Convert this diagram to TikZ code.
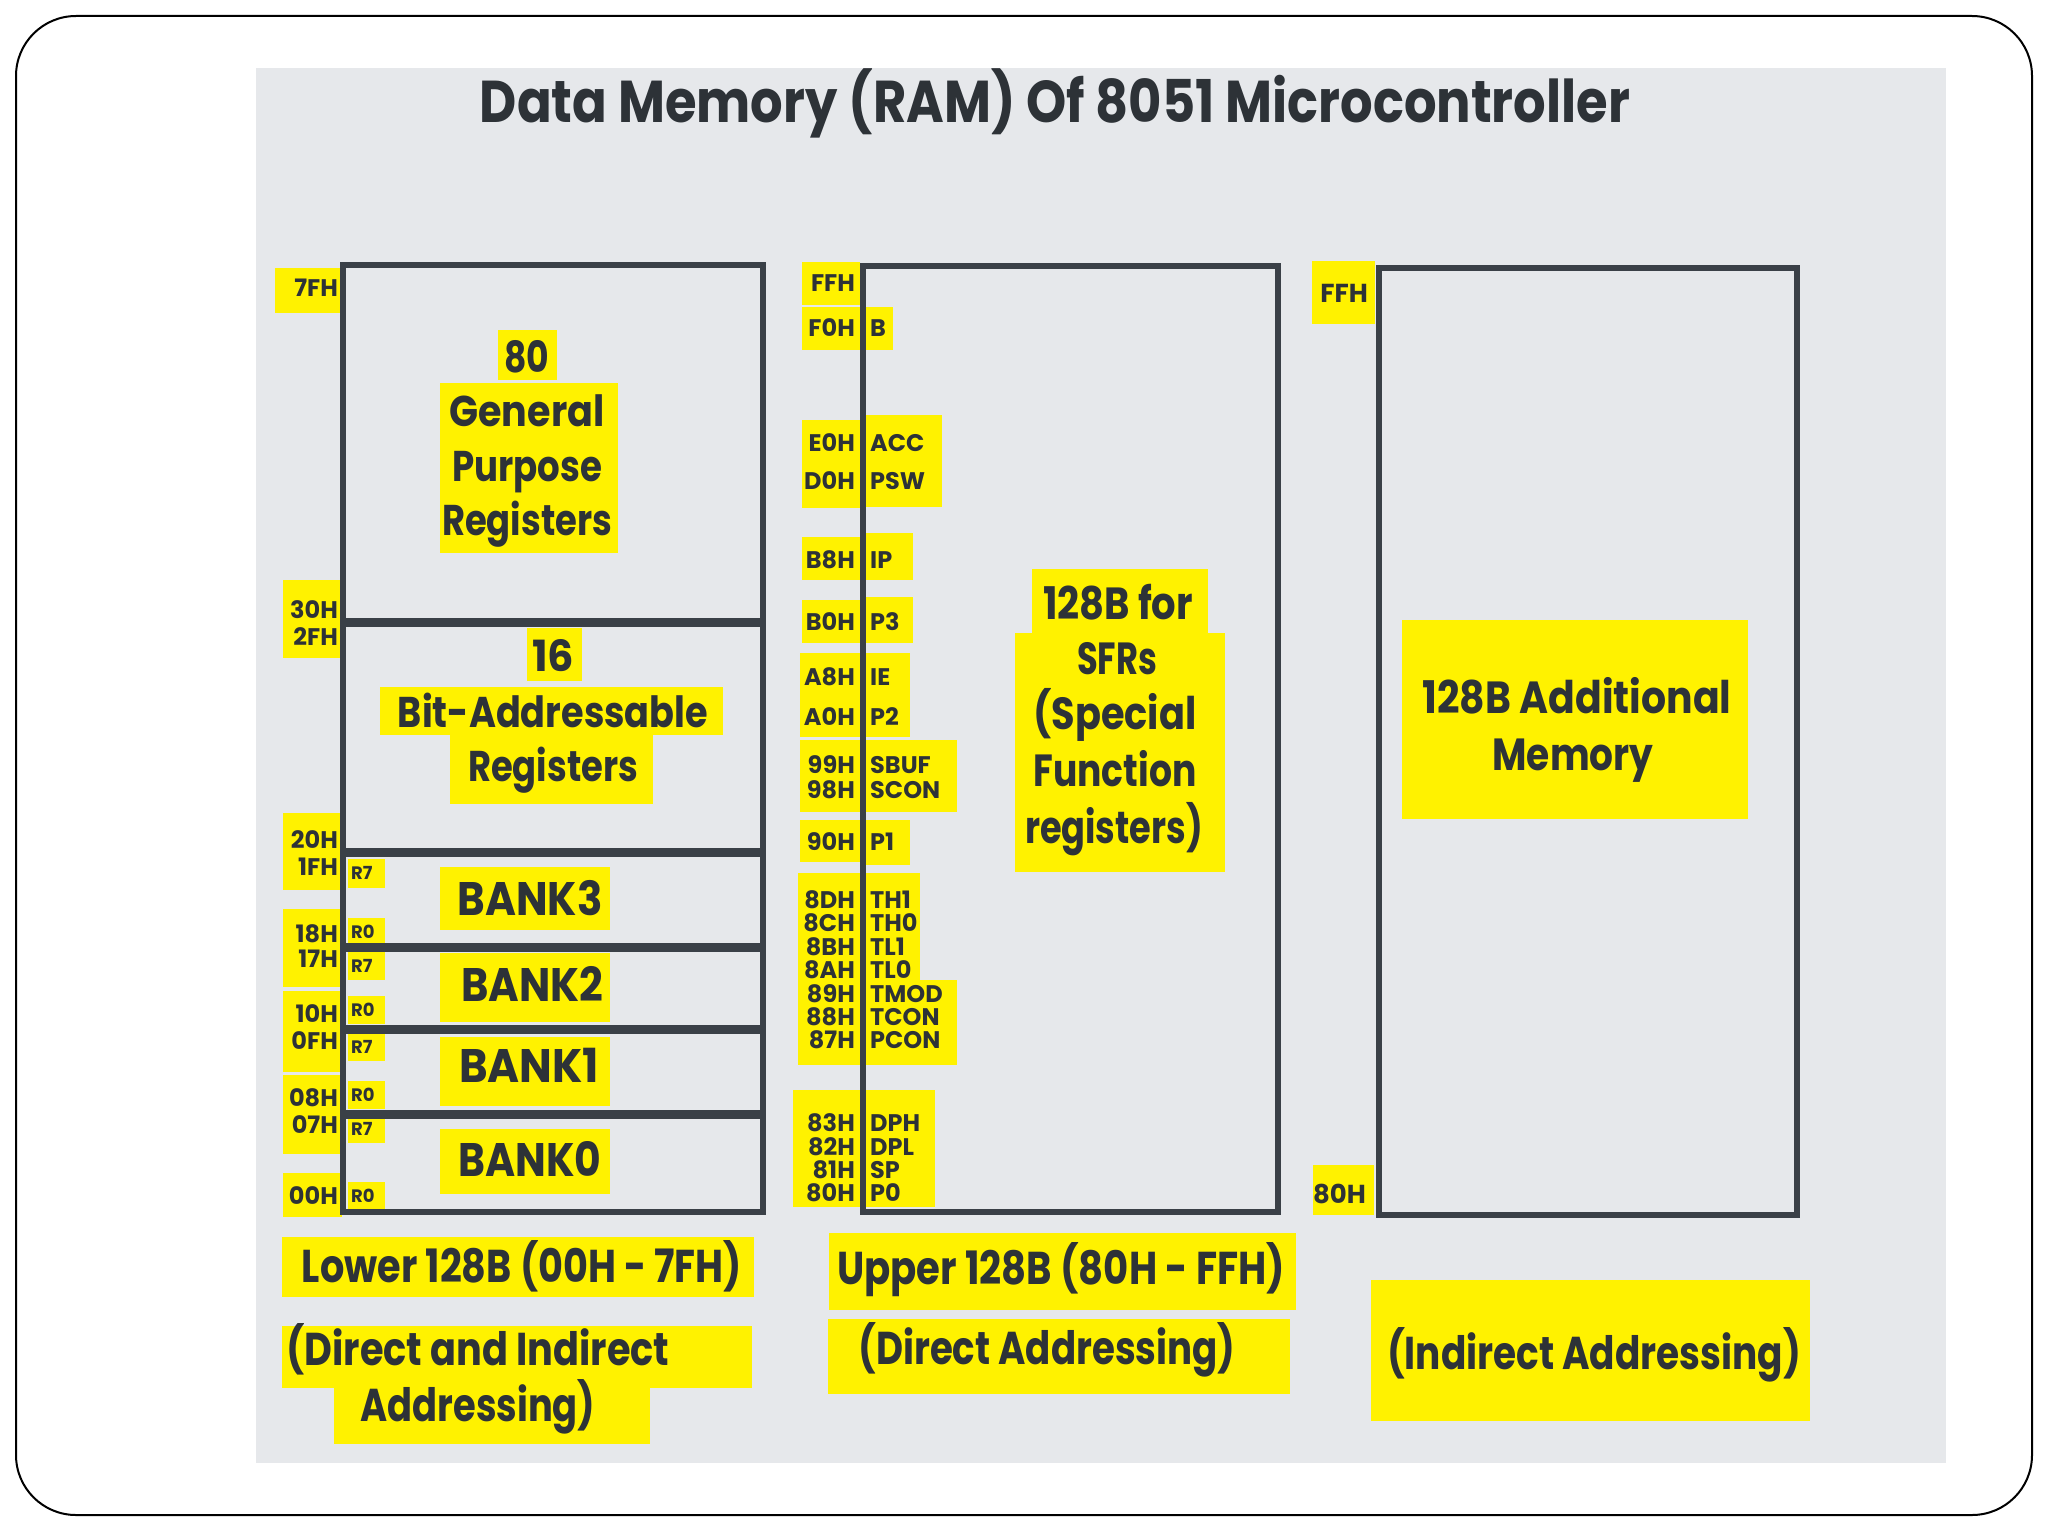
\documentclass[tikz,border=0pt]{standalone}
\usepackage{fontspec}
\setmainfont{Poppins}
\usetikzlibrary{positioning}

\definecolor{panel}{HTML}{E6E8EB}
\definecolor{marker}{HTML}{FFF200}
\definecolor{ink}{HTML}{2D3237}
\definecolor{edge}{HTML}{3A4047}

\newcommand{\fitw}[2]{\resizebox{#1}{\height}{#2}}

\tikzset{
  lbl/.style 2 args={text=ink, inner sep=0pt, text depth=0pt, text height=#2,
    font=\fontsize{#1}{#1}\selectfont\bfseries},
  sfr/.style={lbl={24}{17pt}},
  mem/.style={draw=edge, line width=6pt},
  cut/.style={draw=edge, line width=9pt},
}

\begin{document}
\begin{tikzpicture}[x=1pt, y=-1pt]
    \useasboundingbox (0,0) rectangle (2048,1536);
    \fill[white] (0,0) rectangle (2048,1536);
    \draw[line width=2pt, rounded corners=60pt] (16,16) rectangle (2032,1515);
    \fill[panel] (256,68) rectangle (1946,1463);

    % yellow marks behind the texts
    \foreach \xa/\ya/\xb/\yb in {275/268/342/313, 283/580/342/658, 283/813/342/890,
        283/909/342/987, 283/991/342/1072, 283/1075/342/1154, 283/1173/342/1217,
        348/859/385/888, 348/918/385/946, 348/952/385/980, 348/996/385/1024,
        348/1033/385/1061, 348/1081/385/1109, 348/1115/385/1143, 348/1182/385/1210,
        498/330/557/380, 440/383/618/553, 527/628/582/681, 380/687/723/735, 450/735/653/804,
        440/867/610/930, 440/953/610/1022, 440/1037/610/1106, 440/1129/610/1194,
        802/262/860/305, 802/307/860/350, 860/307/893/350,
        802/420/860/508, 860/415/942/507, 802/537/860/580, 860/533/913/580,
        802/600/860/643, 860/597/913/643, 800/653/860/737, 860/653/910/737,
        800/740/860/812, 860/740/957/812, 800/820/860/862, 860/820/910/865,
        798/873/860/1065, 860/873/920/980, 860/980/957/1065,
        793/1090/860/1207, 860/1090/935/1207,
        1032/569/1208/633, 1015/633/1225/872,
        1312/261/1375/324, 1313/1165/1374/1215, 1402/620/1748/819,
        282/1237/754/1297, 282/1326/752/1388, 334/1388/650/1444,
        829/1233/1296/1310, 828/1319/1290/1394, 1371/1280/1810/1421}
        \fill[marker] (\xa,\ya) rectangle (\xb,\yb);

    \node[lbl={59}{41pt}] (title) at (1055,102) {\fitw{1150pt}{Data Memory (RAM) Of 8051 Microcontroller}};

    % lower 128 bytes
    \foreach \y/\t in {288/7FH, 610/30H, 637/2FH, 840/20H, 867/1FH, 934/18H, 959/17H,
        1014/10H, 1041/0FH, 1098/08H, 1125/07H, 1196/00H}
        \node[sfr, anchor=east] (lo\t) at (338,\y) {\t};
    \foreach \y/\t/\k in {873/R7/3, 932/R0/3, 966/R7/2, 1010/R0/2, 1047/R7/1, 1095/R0/1,
        1129/R7/0, 1196/R0/0}
        \node[lbl={18}{13pt}, anchor=west] (bank\k\t) at (351,\y) {\t};
    \foreach \n/\x/\y/\w/\t in {gpn/527/357/45pt/80, gpa/527/411/155pt/General,
        gpb/527/466/150pt/Purpose, gpc/527/520/170pt/Registers, ban/553/656/42pt/16,
        baa/553/712/310pt/Bit-Addressable, bab/553/766/170pt/Registers}
        \node[lbl={43}{30pt}] (\n) at (\x,\y) {\fitw{\w}{\t}};
    \foreach \k/\x/\y/\w in {3/530/899/145pt, 2/532/985/142pt, 1/529/1066/140pt, 0/530/1160/143pt}
        \node[lbl={47}{33pt}] (bank\k) at (\x,\y) {\fitw{\w}{BANK\k}};
    \draw[mem] (343,265) rectangle (763,1212);
    \foreach \y in {622,852,947,1029,1114}
        \draw[cut] (343,\y) -- (763,\y);

    % upper 128 bytes, SFRs
    \node[sfr, anchor=east] (upFFH) at (855,283) {FFH};
    \foreach \y/\a/\r in {328/F0H/B, 443/E0H/ACC, 481/D0H/PSW, 560/B8H/IP, 622/B0H/P3,
        677/A8H/IE, 717/A0H/P2, 765/99H/SBUF, 790/98H/SCON, 842/90H/P1,
        900/8DH/TH1, 923/8CH/TH0, 947/8BH/TL1, 970/8AH/TL0, 994/89H/TMOD, 1017/88H/TCON,
        1040/87H/PCON, 1123/83H/DPH, 1147/82H/DPL, 1170/81H/SP, 1193/80H/P0}
    {
        \node[sfr, anchor=east] (up\a) at (855,\y) {\a};
        \node[sfr, right=15pt of up\a] (sf\a) {\r};
    }
    \foreach \n/\x/\y/\w/\t in {sfa/1118/603/150pt/128B for, sfb/1117/658/80pt/SFRs,
        sfc/1115/713/163pt/(Special, sfd/1115/770/163pt/Function, sfe/1114/827/178pt/registers)}
        \node[lbl={45}{32pt}] (\n) at (\x,\y) {\fitw{\w}{\t}};
    \draw[mem] (863,266) rectangle (1278,1212);

    % additional memory
    \node[lbl={26}{18pt}, anchor=east] (adFFH) at (1368,293) {FFH};
    \node[lbl={26}{18pt}, anchor=east] (ad80H) at (1366,1194) {80H};
    \node[lbl={45}{32pt}] (ada) at (1577,697) {\fitw{309pt}{128B Additional}};
    \node[lbl={45}{32pt}] (adb) at (1573,754) {\fitw{161pt}{Memory}};
    \draw[mem] (1379,268) rectangle (1797,1215);

    % captions
    \foreach \n/\x/\y/\w/\t in {cla/522/1266/440pt/Lower 128B (00H - 7FH),
        clb/478/1349/383pt/(Direct and Indirect, clc/478/1405/235pt/Addressing),
        cua/1061/1268/448pt/Upper 128B (80H - FFH), cub/1047/1348/377pt/(Direct Addressing),
        cra/1594/1353/414pt/(Indirect Addressing)}
        \node[lbl={46}{32pt}] (\n) at (\x,\y) {\fitw{\w}{\t}};
\end{tikzpicture}
\end{document}
